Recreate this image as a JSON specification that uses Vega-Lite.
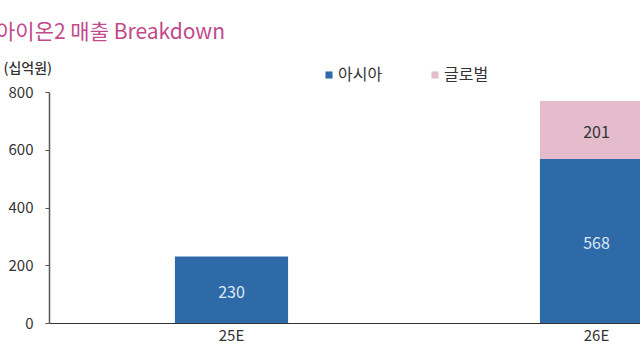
{
  "$schema": "https://vega.github.io/schema/vega-lite/v6.json",
  "autosize": {"type": "none"},
  "padding": {"left": 49, "top": 92, "right": 0, "bottom": 37},
  "width": 591,
  "height": 231,
  "background": "white",
  "title": {
    "text": "아이온2 매출 Breakdown",
    "anchor": "start",
    "frame": "group",
    "dx": -53,
    "fontSize": 21,
    "fontWeight": "normal",
    "font": "Noto Sans CJK KR",
    "color": "#c24a8b",
    "offset": 18
  },
  "config": {
    "view": {"stroke": null},
    "font": "Noto Sans CJK KR"
  },
  "data": {
    "values": [
      {"year": "25E", "series": "아시아", "value": 230},
      {"year": "26E", "series": "아시아", "value": 568},
      {"year": "26E", "series": "글로벌", "value": 201}
    ]
  },
  "encoding": {
    "x": {
      "field": "year",
      "type": "nominal",
      "sort": ["25E", "26E"],
      "scale": {"range": [0, 730], "paddingInner": 0.69, "paddingOuter": 0.345},
      "axis": {
        "title": null,
        "labelAngle": 0,
        "ticks": false,
        "domainColor": "#333333",
        "domainWidth": 1,
        "labelFontSize": 15,
        "labelColor": "#333333",
        "labelPadding": 5
      }
    },
    "y": {
      "field": "value",
      "type": "quantitative",
      "stack": "zero",
      "scale": {"domain": [0, 800]},
      "axis": {
        "values": [0, 200, 400, 600, 800],
        "grid": false,
        "title": "(십억원)",
        "titleAngle": 0,
        "titleAlign": "left",
        "titleBaseline": "middle",
        "titleX": -46,
        "titleY": -24,
        "titleFontSize": 14,
        "titleFontWeight": 500,
        "titleColor": "#333333",
        "domainColor": "#555555",
        "domainWidth": 1.5,
        "tickColor": "#555555",
        "tickSize": 4,
        "labelFontSize": 15,
        "labelColor": "#333333",
        "labelPadding": 12
      }
    },
    "order": {"field": "series", "sort": "descending"}
  },
  "layer": [
    {
      "mark": {"type": "bar"},
      "encoding": {
        "color": {
          "field": "series",
          "type": "nominal",
          "scale": {"domain": ["아시아", "글로벌"], "range": ["#2e6aa8", "#e4bccc"]},
          "legend": {
            "title": null,
            "orient": "none",
            "direction": "horizontal",
            "legendX": 272,
            "legendY": -25,
            "symbolType": "square",
            "symbolSize": 50,
            "symbolStrokeWidth": 0,
            "labelFontSize": 16,
            "labelColor": "#333333",
            "labelOffset": 1,
            "columnPadding": 44
          }
        }
      }
    },
    {
      "mark": {"type": "text", "fontSize": 16, "dy": 3},
      "encoding": {
        "y": {"field": "value", "type": "quantitative", "stack": "zero", "bandPosition": 0.5},
        "text": {"field": "value", "type": "quantitative"},
        "color": {
          "condition": {"test": "datum.series === '글로벌'", "value": "#333333"},
          "value": "#dbe8f6"
        }
      }
    }
  ]
}
